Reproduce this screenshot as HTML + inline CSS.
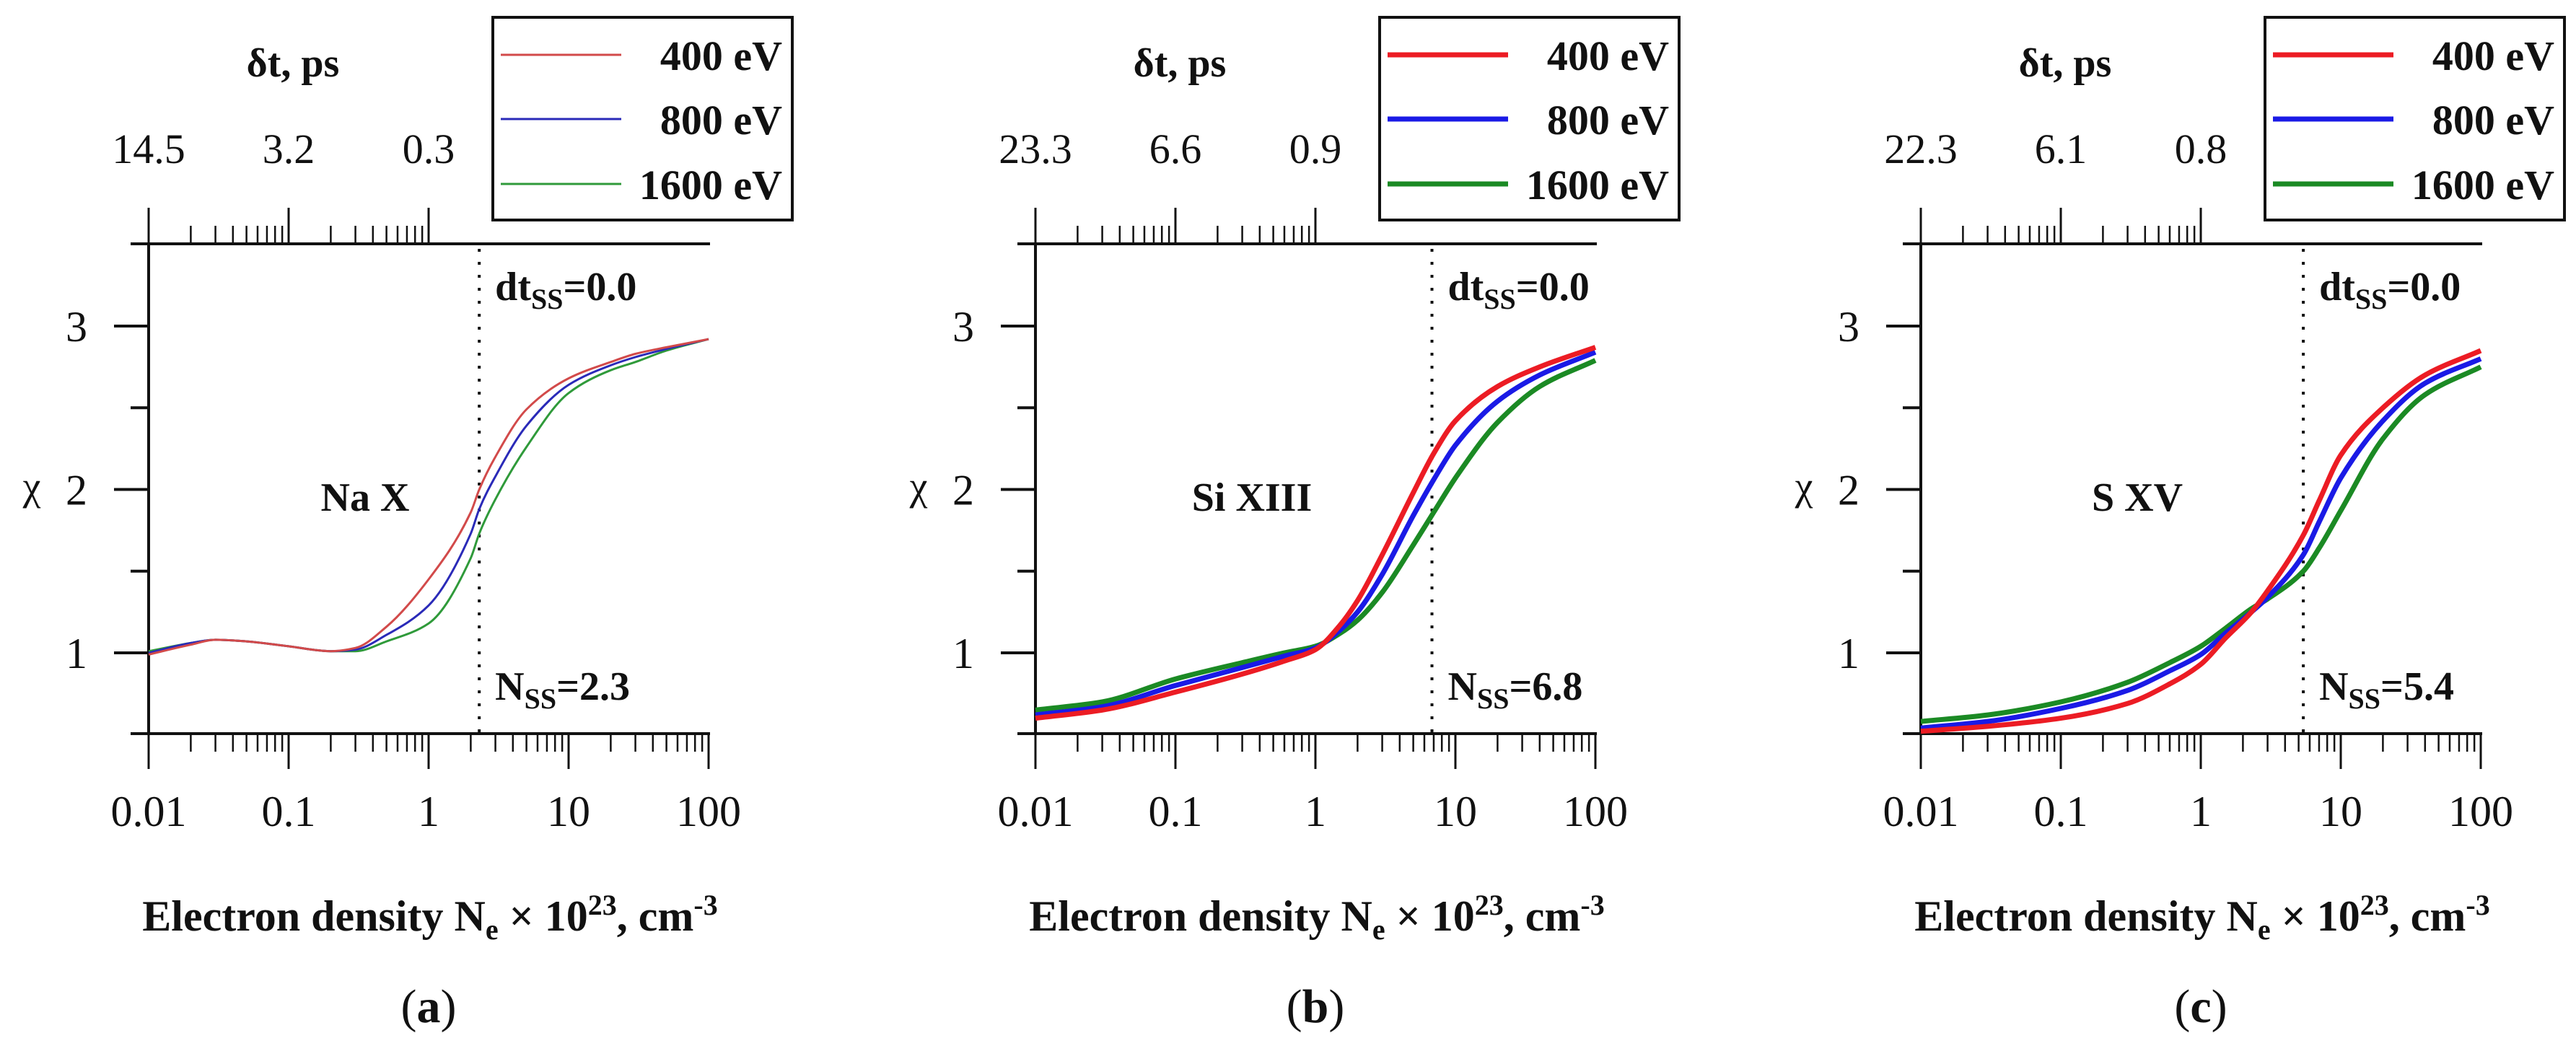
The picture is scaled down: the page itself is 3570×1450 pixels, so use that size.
<!DOCTYPE html>
<html><head><meta charset="utf-8">
<style>
html,body{margin:0;padding:0;background:#fff;}
svg{display:block;}
text{font-family:"Liberation Serif",serif;fill:#111;}
</style></head>
<body>
<svg id="fig" width="3570" height="1450" viewBox="0 0 3570 1450" xmlns="http://www.w3.org/2000/svg"></svg>
<script>
// ---- data ----
const xA = [0.01,0.02,0.03,0.05,0.1,0.2,0.3,0.5,1,2,2.3,3,5,10,20,30,50,100];
const aRed   = [0.99,1.05,1.08,1.07,1.04,1.01,1.03,1.16,1.45,1.86,2.00,2.20,2.49,2.68,2.78,2.83,2.87,2.92];
const aBlue  = [1.00,1.06,1.08,1.07,1.04,1.01,1.02,1.11,1.29,1.73,1.88,2.08,2.39,2.64,2.76,2.81,2.86,2.92];
const aGreen = [1.01,1.06,1.08,1.07,1.04,1.01,1.01,1.07,1.18,1.58,1.73,1.94,2.26,2.59,2.73,2.78,2.85,2.92];
const xB = [0.01,0.03,0.1,0.3,0.6,1,1.5,2,3,5,7,10,20,40,100];
const bRed   = [0.60,0.65,0.76,0.87,0.95,1.02,1.17,1.32,1.60,1.98,2.22,2.42,2.63,2.75,2.87];
const bBlue  = [0.62,0.67,0.80,0.91,0.98,1.03,1.14,1.25,1.48,1.84,2.06,2.27,2.54,2.70,2.84];
const bGreen = [0.65,0.70,0.84,0.94,1.00,1.04,1.12,1.20,1.37,1.66,1.86,2.07,2.41,2.63,2.79];
const xC = [0.01,0.03,0.1,0.3,0.6,1,1.5,2.3,3,5.4,7,10,20,40,100];
const cRed   = [0.52,0.55,0.60,0.69,0.81,0.93,1.09,1.25,1.38,1.72,1.93,2.21,2.50,2.70,2.85];
const cBlue  = [0.54,0.58,0.66,0.77,0.89,0.99,1.12,1.25,1.34,1.60,1.80,2.07,2.42,2.65,2.80];
const cGreen = [0.58,0.62,0.70,0.82,0.94,1.04,1.15,1.27,1.33,1.50,1.64,1.87,2.31,2.58,2.75];
const xTickLabels = ["0.01","0.1","1","10","100"];
const yTickLabels = ["1","2","3"];
const dtA = ["14.5","3.2","0.3"];
const dtB = ["23.3","6.6","0.9"];
const dtC = ["22.3","6.1","0.8"];
const legendLabels = ["400 eV","800 eV","1600 eV"];
const nssValues = [2.3, 6.8, 5.4];

const NS="http://www.w3.org/2000/svg";
const svg=document.getElementById('fig');
function el(tag,attrs,parent){const e=document.createElementNS(NS,tag);for(const k in attrs)e.setAttribute(k,attrs[k]);(parent||svg).appendChild(e);return e;}
function txt(str,attrs,parent){const t=el('text',attrs,parent);t.textContent=str;return t;}

const Y0=905, YU=226.5;
function yPix(v){return Y0-(v-1)*YU;}

function monoPath(pts){
  const n=pts.length, xs=pts.map(p=>p[0]), ys=pts.map(p=>p[1]);
  const dx=[],m=[];
  for(let i=0;i<n-1;i++){dx.push(xs[i+1]-xs[i]);m.push((ys[i+1]-ys[i])/dx[i]);}
  const t=[m[0]];
  for(let i=1;i<n-1;i++){
    if(m[i-1]*m[i]<=0)t.push(0);
    else{const w1=2*dx[i]+dx[i-1],w2=dx[i]+2*dx[i-1];t.push((w1+w2)/(w1/m[i-1]+w2/m[i]));}
  }
  t.push(m[n-2]);
  let d='M'+xs[0].toFixed(1)+','+ys[0].toFixed(1);
  for(let i=0;i<n-1;i++){
    const h=dx[i];
    d+=' C'+(xs[i]+h/3).toFixed(1)+','+(ys[i]+t[i]*h/3).toFixed(1)+' '+(xs[i+1]-h/3).toFixed(1)+','+(ys[i+1]-t[i+1]*h/3).toFixed(1)+' '+xs[i+1].toFixed(1)+','+ys[i+1].toFixed(1);
  }
  return d;
}

const panels=[
 {x0:206,id:'a',xs:xA,series:[aRed,aBlue,aGreen],dt:dtA,label:'Na X',nss:nssValues[0],nssTxt:'2.3',cols:['#d24a4a','#2a2ab8','#2f9a3a'],w:3,lab:'a'},
 {x0:1435,id:'b',xs:xB,series:[bRed,bBlue,bGreen],dt:dtB,label:'Si XIII',nss:nssValues[1],nssTxt:'6.8',cols:['#ec1c24','#1a1ae6','#1b8a24'],w:7,lab:'b'},
 {x0:2662,id:'c',xs:xC,series:[cRed,cBlue,cGreen],dt:dtC,label:'S XV',nss:nssValues[2],nssTxt:'5.4',cols:['#ec1c24','#1a1ae6','#1b8a24'],w:7,lab:'c'}
];
const DEC=194;

panels.forEach(p=>{
  const g=el('g',{});
  
  
  const x0=p.x0, x1=x0+4*DEC;
  const xPix=v=>x0+(Math.log10(v)+2)*DEC;
  const ax=el('g',{stroke:'#111','stroke-width':4,fill:'none'},g);
  
  
  el('line',{x1:x0-25,y1:338,x2:x1+2,y2:338},ax);
  el('line',{x1:x0-25,y1:1017,x2:x1+2,y2:1017},ax);
  el('line',{x1:x0,y1:338,x2:x0,y2:1017},ax);
  for(let d=0;d<=4;d++){
    const xm=x0+d*DEC;
    el('line',{x1:xm,y1:1017,x2:xm,y2:1066,'stroke-width':3},ax);
    if(d<4)for(let k=2;k<=9;k++){const xx=x0+(d+Math.log10(k))*DEC;el('line',{x1:xx,y1:1017,x2:xx,y2:1042,'stroke-width':2.5},ax);}
  }
  for(let d=0;d<=2;d++){
    const xm=x0+d*DEC;
    el('line',{x1:xm,y1:338,x2:xm,y2:288,'stroke-width':3},ax);
    if(d<2)for(let k=2;k<=9;k++){const xx=x0+(d+Math.log10(k))*DEC;el('line',{x1:xx,y1:338,x2:xx,y2:313,'stroke-width':2.5},ax);}
  }
  [1,2,3].forEach(v=>el('line',{x1:x0-48,y1:yPix(v),x2:x0,y2:yPix(v)},ax));
  [1.5,2.5].forEach(v=>el('line',{x1:x0-25,y1:yPix(v),x2:x0,y2:yPix(v)},ax));
  xTickLabels.forEach((s,i)=>{const t=txt(s,{x:x0+i*DEC,y:1145,'font-size':60,'text-anchor':'middle'},g);
    });
  yTickLabels.forEach((s,i)=>{const t=txt(s,{x:x0-100,y:yPix(i+1)+21,'font-size':60,'text-anchor':'middle'},g);
    });
  p.dt.forEach((s,i)=>{const t=txt(s,{x:x0+i*DEC,y:226,'font-size':58,'text-anchor':'middle'},g);
    });
  const dtt=txt('δt, ps',{x:x0+200,y:106,'font-size':56,'text-anchor':'middle','font-weight':'bold'},g);
  
  const yl=txt('χ',{x:x0-162,y:yPix(2)+14,'font-size':56,'text-anchor':'middle'},g);
  
  const xt=el('text',{x:x0+390,y:1290,'font-size':60,'font-weight':'bold','text-anchor':'middle'},g);
  
  xt.innerHTML='Electron density N<tspan font-size="40" dy="12">e</tspan><tspan dy="-12"> × 10</tspan><tspan font-size="40" dy="-22">23</tspan><tspan dy="22">, cm</tspan><tspan font-size="40" dy="-22">-3</tspan>';
  const pl=el('text',{x:x0+388,y:1417,'font-size':66,'text-anchor':'middle'},g);
  
  pl.innerHTML='(<tspan font-weight="bold">'+p.lab+'</tspan>)';
  const il=txt(p.label,{x:x0+300,y:708,'font-size':56,'text-anchor':'middle','font-weight':'bold'},g);
  
  const xn=xPix(p.nss);
  const dl=el('line',{x1:xn,y1:345,x2:xn,y2:1017,stroke:'#111','stroke-width':4,'stroke-dasharray':'4 14'},g);
  
  const dtl=el('text',{x:xn+22,y:416,'font-size':56,'font-weight':'bold'},g);
  
  dtl.innerHTML='dt<tspan font-size="40" dy="12">SS</tspan><tspan dy="-12">=0.0</tspan>';
  const nl=el('text',{x:xn+22,y:970,'font-size':56,'font-weight':'bold'},g);
  
  nl.innerHTML='N<tspan font-size="40" dy="12">SS</tspan><tspan dy="-12">='+p.nssTxt+'</tspan>';
  const names=['curve-400ev','curve-800ev','curve-1600ev'];
  [2,1,0].forEach(si=>{
    const ser=p.series[si];
    const pts=p.xs.map((xv,i)=>[xPix(xv),yPix(ser[i])]);
    const path=el('path',{d:monoPath(pts),fill:'none',stroke:p.cols[si],'stroke-width':p.w,'stroke-linejoin':'round'},g);
    
    
  });
  const lg=el('g',{},g);
  
  
  el('rect',{x:x0+477,y:24,width:415,height:281,fill:'#fff',stroke:'#111','stroke-width':4},lg);
  const ly=[76,165,255];
  legendLabels.forEach((s,i)=>{
    const e=el('g',{},lg);
    
    
    el('line',{x1:x0+488,y1:ly[i],x2:x0+655,y2:ly[i],stroke:p.cols[i],'stroke-width':p.w},e);
    txt(s,{x:x0+878,y:ly[i]+21,'font-size':58,'text-anchor':'end','font-weight':'bold'},e);
  });
});
</script>
</body></html>
